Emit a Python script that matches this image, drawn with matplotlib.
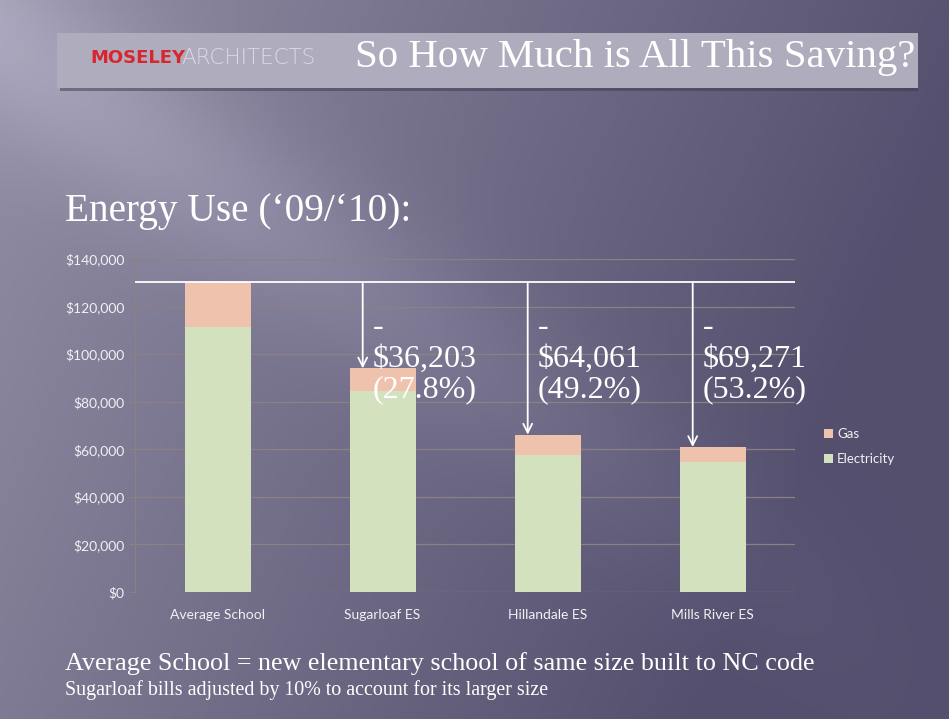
import numpy as np
from matplotlib import pyplot as plt
from matplotlib.patches import Rectangle

# data
schools = ["Average School", "Sugarloaf ES", "Hillandale ES", "Mills River ES"]
electricity = [111500, 84500, 57500, 54700]
gas = [18700, 9500, 8650, 6240]
savings = ["$36,203", "$64,061", "$69,271"]
savings_pct = ["27.8%", "49.2%", "53.2%"]
y_ticks = [0, 20000, 40000, 60000, 80000, 100000, 120000, 140000]

W, H = 949, 719
fig = plt.figure(figsize=(W / 100, H / 100), dpi=100)


def fx(px):
    return px / W


def fy(py):
    return 1 - py / H


# background: purple-grey slide with a light diagonal streak
bg = fig.add_axes([0, 0, 1, 1], zorder=-10)
yy, xx = np.mgrid[0:1:200j, 0:1:260j]
light = np.array([0.63, 0.62, 0.70])
dark = np.array([0.33, 0.31, 0.43])
t = np.clip(0.2 + 0.75 * xx + 0.25 * yy, 0, 1)[..., None]
img = light * (1 - t) + dark * t
streak = np.exp(-((yy - 0.9 * xx - 0.05) ** 2) / 0.02) * (1 - xx)
img = img + 0.10 * streak[..., None]
img = np.clip(img, 0, 1)
bg.imshow(img, extent=[0, 1, 0, 1], aspect="auto", origin="upper")
bg.set_xlim(0, 1)
bg.set_ylim(0, 1)
bg.axis("off")

# header banner
bg.add_patch(Rectangle((fx(60), fy(91)), fx(918) - fx(60), fy(33) - fy(91),
                       facecolor="#3e3a4c", alpha=0.5, lw=0))
bg.add_patch(Rectangle((fx(57), fy(88)), fx(918) - fx(57), fy(33) - fy(88),
                       facecolor="#aeacbd", lw=0))
fig.text(fx(90), fy(58), "MOSELEY", color="#d9252e", fontsize=13, weight="bold",
         family="DejaVu Sans", va="center")
fig.text(fx(181), fy(58), "ARCHITECTS", color="#dcdae4", fontsize=15.5,
         family="DejaVu Sans", weight="light", va="center")
fig.text(fx(355), fy(57), "So How Much is All This Saving?", color="white",
         fontsize=29.4, family="Liberation Serif", va="center")

fig.text(fx(65), fy(212), "Energy Use (\u201809/\u201810):", color="white",
         fontsize=28.3, family="Liberation Serif", va="center")

# chart
ax = fig.add_axes([fx(135), fy(592), fx(795) - fx(135), fy(259) - fy(592)])
ax.set_facecolor("none")
x = np.arange(len(schools))
ax.bar(x, electricity, width=0.4, color="#d3e1bf", label="Electricity", zorder=3)
ax.bar(x, gas, width=0.4, bottom=electricity, color="#efc2ae", label="Gas", zorder=3)

ax.set_xlim(-0.5, 3.5)
ax.set_ylim(0, 140000)
ax.set_yticks(y_ticks)
ax.set_yticklabels(["${:,}".format(v) for v in y_ticks])
ax.set_xticks(x)
ax.set_xticklabels(schools)
ax.yaxis.grid(True, color="#8d8082", lw=0.9, zorder=0)
for s in ["top", "right", "bottom"]:
    ax.spines[s].set_visible(False)
ax.spines["left"].set_color("#8d8082")
ax.tick_params(axis="y", colors="#8d8082", labelcolor="#f2f0f4", labelsize=10, length=4)
ax.tick_params(axis="x", length=0, labelcolor="#f2f0f4", labelsize=10, pad=12)
for lab in ax.get_xticklabels() + ax.get_yticklabels():
    lab.set_family("Lato")

# baseline of the average school and the savings arrows
totals = [e + g for e, g in zip(electricity, gas)]
ax.axhline(totals[0], color="white", lw=1.3, zorder=4)
for i in range(1, len(schools)):
    ax.annotate("", xy=(i - 0.12, totals[i]), xytext=(i - 0.12, totals[0]),
                arrowprops=dict(arrowstyle="->", color="white", lw=1.3,
                                mutation_scale=16, shrinkA=0, shrinkB=0), zorder=5)
    ax.text(i - 0.06, 117200, "-\n" + savings[i - 1] + "\n(" + savings_pct[i - 1] + ")",
            color="white", fontsize=23, family="Liberation Serif", va="top",
            ha="left", linespacing=1.1, zorder=6)

handles, labels = ax.get_legend_handles_labels()
leg = fig.legend(handles[::-1], labels[::-1], loc="upper left",
                 bbox_to_anchor=(fx(812), fy(416)), frameon=False,
                 handlelength=0.7, handleheight=0.7, handletextpad=0.3,
                 labelspacing=1.0, prop={"family": "Lato", "size": 9.5})
for t_ in leg.get_texts():
    t_.set_color("#f2f0f4")

# footnotes
fig.text(fx(65), fy(664), "Average School = new elementary school of same size built to NC code",
         color="white", fontsize=18.8, family="Liberation Serif", va="center")
fig.text(fx(65), fy(690), "Sugarloaf bills adjusted by 10% to account for its larger size",
         color="white", fontsize=14.4, family="Liberation Serif", va="center")

fig.savefig("out.png", dpi=100)
